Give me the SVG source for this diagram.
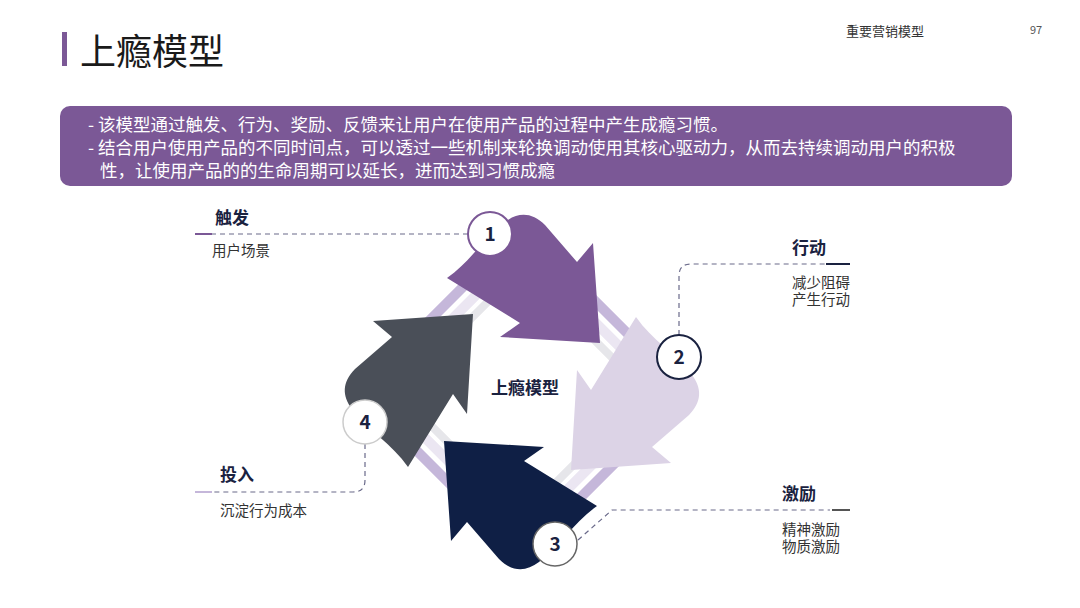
<svg xmlns="http://www.w3.org/2000/svg" width="1080" height="608" viewBox="0 0 1080 608">
<style>
text{font-family:"Noto Sans CJK SC","Noto Sans",sans-serif}
.lab{font-size:17px;font-weight:bold;fill:#1a2240}
.sub{font-size:14.5px;fill:#333}
.dash{fill:none;stroke:#6a6a8a;stroke-width:1.2;stroke-dasharray:5 4}
.num{font-size:19px;font-weight:bold;fill:#1a2240;text-anchor:middle}
</style>
<defs>
<path id="arr" d="M447,278 C470,262 482,240 505,222 C518,212 532,212 545,225 L577,262 L593,243 L600,343 L500,337 L520,323 Z"/>
</defs>
<rect width="1080" height="608" fill="#fff"/>
<rect x="62" y="32" width="5" height="34" fill="#7b5896"/>
<text x="80" y="65" font-size="36" fill="#1a1a1a">上瘾模型</text>
<text x="846" y="36" font-size="13" fill="#333">重要营销模型</text>
<text x="1030" y="34" font-size="11" fill="#555">97</text>
<rect x="60" y="106" width="952" height="80" rx="10" fill="#7b5896"/>
<g font-size="17.5" fill="#fff">
<text x="88" y="131">- 该模型通过触发、行为、奖励、反馈来让用户在使用产品的过程中产生成瘾习惯。</text>
<text x="88" y="154">- 结合用户使用产品的不同时间点，可以透过一些机制来轮换调动使用其核心驱动力，从而去持续调动用户的积极</text>
<text x="100" y="177">性，让使用产品的的生命周期可以延长，进而达到习惯成瘾</text>
</g>
<g id="ring" transform="rotate(45 522 392)">
<rect x="406" y="276" width="232" height="232" fill="none" stroke="#c5b7da" stroke-width="10"/>
<rect x="421" y="291" width="202" height="202" fill="none" stroke="#ebe6f2" stroke-width="10"/>
<rect x="434" y="304" width="176" height="176" fill="none" stroke="#e6e6ea" stroke-width="8"/>
</g>
<g id="connectors">
<path class="dash" d="M468,234 H210"/>
<line x1="195" y1="234" x2="212" y2="234" stroke="#7b5896" stroke-width="2"/>
<path class="dash" d="M679,335 V276 Q679,264 691,264 H830"/>
<line x1="826" y1="264" x2="850" y2="264" stroke="#1a2240" stroke-width="2"/>
<path class="dash" d="M578,540 L612,510 H830"/>
<line x1="832" y1="510" x2="850" y2="510" stroke="#555" stroke-width="2"/>
<path class="dash" d="M365,444 V480 Q365,492 353,492 H210"/>
<line x1="195" y1="492" x2="212" y2="492" stroke="#c5b7da" stroke-width="2"/>
</g>
<g id="arrow1"><use href="#arr" fill="#7b5896"/></g>
<g id="arrow2"><use href="#arr" fill="#dcd3e6" transform="rotate(90 522 392)"/></g>
<g id="arrow3"><use href="#arr" fill="#0f1f45" transform="rotate(180 522 392)"/></g>
<g id="arrow4"><use href="#arr" fill="#4a4f58" transform="rotate(270 522 392)"/></g>
<text x="525" y="394" font-size="17" font-weight="bold" fill="#1a2240" text-anchor="middle">上瘾模型</text>
<g id="n1"><circle cx="490" cy="234" r="22" fill="#fff" stroke="#7b5896" stroke-width="2"/><text class="num" x="490" y="241">1</text></g>
<g id="n2"><circle cx="679" cy="357" r="22" fill="#fff" stroke="#1a2240" stroke-width="2"/><text class="num" x="679" y="364">2</text></g>
<g id="n3"><circle cx="555" cy="544" r="22" fill="#fff" stroke="#666" stroke-width="1.5"/><text class="num" x="555" y="551">3</text></g>
<g id="n4"><circle cx="365" cy="422" r="22" fill="#fff" stroke="#ccc" stroke-width="1.5"/><text class="num" x="365" y="429">4</text></g>
<g id="t1"><text class="lab" x="215" y="224">触发</text><text class="sub" x="212" y="256">用户场景</text></g>
<g id="t2"><text class="lab" x="792" y="254">行动</text><text class="sub" x="792" y="288">减少阻碍</text><text class="sub" x="792" y="305">产生行动</text></g>
<g id="t3"><text class="lab" x="782" y="500">激励</text><text class="sub" x="782" y="535">精神激励</text><text class="sub" x="782" y="552">物质激励</text></g>
<g id="t4"><text class="lab" x="220" y="481">投入</text><text class="sub" x="220" y="516">沉淀行为成本</text></g>
</svg>
